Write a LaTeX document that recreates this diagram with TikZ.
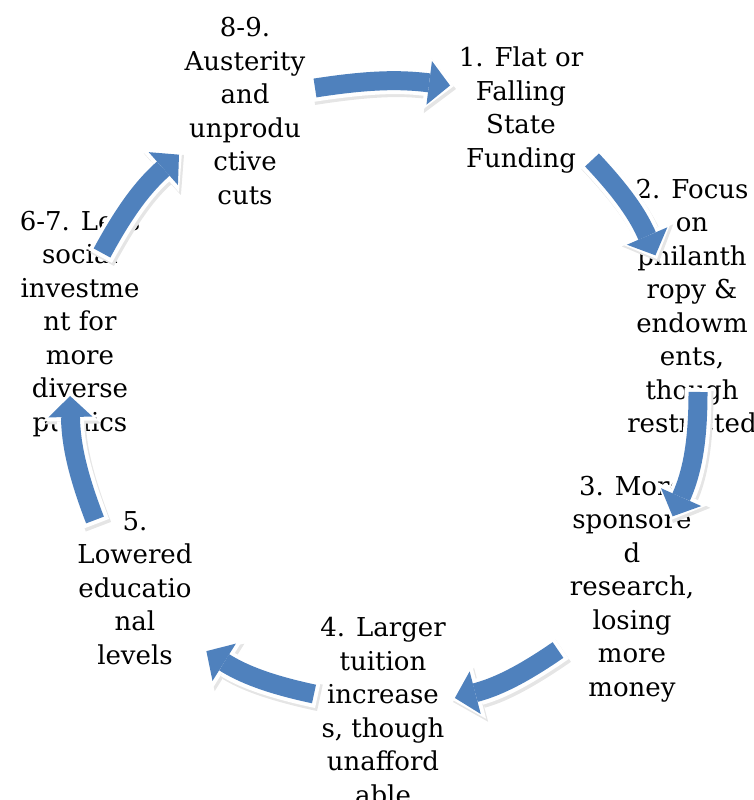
\documentclass[tikz,border=0pt]{standalone}
\usepackage{fontspec}
\setmainfont{DejaVu Serif}
\usetikzlibrary{arrows.meta}
\definecolor{cycleblue}{HTML}{4F81BD}

\tikzset{
  stage/.style={align=center, inner sep=0pt, font=\fontsize{26}{33.5}\selectfont},
  cyclearrow/.style={draw=cycleblue, line width=19pt, shorten >=4pt,
    -{Triangle[width=44pt,length=21pt,line width=0pt]},
    preaction={draw=black!10, line width=27pt, shorten <=-4pt, shorten >=0pt,
      transform canvas={shift={(2pt,-3pt)}},
      -{Triangle[width=56pt,length=29pt,line width=0pt]}},
    preaction={draw=white, line width=27pt, shorten <=-4pt, shorten >=0pt,
      -{Triangle[width=56pt,length=29pt,line width=0pt]}}},
}

\begin{document}
\begin{tikzpicture}[x=1pt,y=1pt]

\clip (0,0) rectangle (753,800);

% Stages of the cycle
\node[stage] (austerity) at (245,689) {8-9.\\Austerity\\and\\unprodu\\ctive\\cuts};
\node[stage] (funding) at (521,690) {1. Flat or\\Falling\\State\\Funding};
\node[stage] (philanthropy) at (692,494) {2. Focus\\on\\philanth\\ropy \&\\endowm\\ents,\\though\\restricted};
\node[stage] (research) at (632,211) {3. More\\sponsore\\d\\research,\\losing\\more\\money};
\node[stage] (tuition) at (383,89) {4. Larger\\tuition\\increase\\s, though\\unafford\\able};
\node[stage] (education) at (135,212) {5.\\Lowered\\educatio\\nal\\levels};
\node[stage] (investment) at (80,476) {6-7. Less\\social\\investme\\nt for\\more\\diverse\\publics};

% Ends of the arrows
\coordinate (a1) at (315,712); \coordinate (a2) at (454,714);
\coordinate (b1) at (592,640); \coordinate (b2) at (657,541);
\coordinate (c1) at (698,408); \coordinate (c2) at (671,280);
\coordinate (d1) at (558,150); \coordinate (d2) at (451,101);
\coordinate (e1) at (314,106); \coordinate (e2) at (203,151);
\coordinate (f1) at (95,280);  \coordinate (f2) at (70,408);
\coordinate (g1) at (102,547); \coordinate (g2) at (182,648);

% Arrows round the cycle
\draw[cyclearrow] (a1) to[bend left=8] (a2);
\draw[cyclearrow] (b1) to[bend left=10] (b2);
\draw[cyclearrow] (c1) to[bend left=12] (c2);
\draw[cyclearrow] (d1) to[bend left=10] (d2);
\draw[cyclearrow] (e1) to[bend left=10] (e2);
\draw[cyclearrow] (f1) to[bend left=10] (f2);
\draw[cyclearrow] (g1) to[bend left=10] (g2);

\end{tikzpicture}
\end{document}
